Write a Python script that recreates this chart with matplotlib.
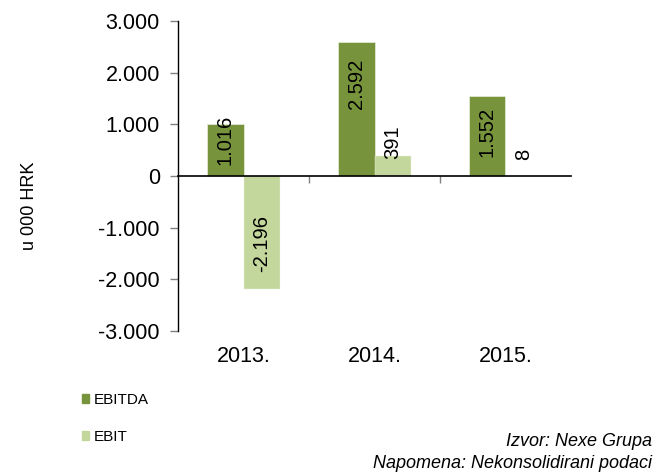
import matplotlib
matplotlib.use('Agg')
import matplotlib.pyplot as plt
from matplotlib.patches import Patch
from matplotlib.ticker import FuncFormatter
import numpy as np

plt.rcParams['font.family'] = ['Liberation Sans', 'DejaVu Sans']

# podaci (u 000 HRK)
years = ['2013.', '2014.', '2015.']
ebitda = [1016, 2592, 1552]
ebit = [-2196, 391, 8]
series_names = ['EBITDA', 'EBIT']
yticks = [-3000, -2000, -1000, 0, 1000, 2000, 3000]

c_ebitda = '#77933C'
c_ebit = '#C3D69B'

# pomaci natpisa (u tockama) u odnosu na vrh stupca
off_ebitda = [-12, -30, -26]
off_ebit = [33, 9.5, 15]


def fmt(v):
    return '{:,.0f}'.format(v).replace(',', '.')


fig = plt.figure(figsize=(6.58, 4.74), dpi=100)
ax = fig.add_axes([178/658, 1-331/474, (571-178)/658, (331-21)/474])

x = np.arange(len(years))
w = 0.28
ax.bar(x - w/2, ebitda, w, color=c_ebitda, edgecolor='#E8EEDB', linewidth=0.5, zorder=2)
ax.bar(x + w/2, ebit, w, color=c_ebit, edgecolor='#EEF3E3', linewidth=0.3, zorder=2)

for xi, v, off in zip(x - w/2, ebitda, off_ebitda):
    ax.annotate(fmt(v), xy=(xi, v), xytext=(0, off), textcoords='offset points',
                rotation=90, ha='center', va='center', fontsize=14.5, zorder=4)
for xi, v, off in zip(x + w/2, ebit, off_ebit):
    ax.annotate(fmt(v), xy=(xi, v), xytext=(0, off), textcoords='offset points',
                rotation=90, ha='center', va='center', fontsize=14.5, zorder=4)

ax.set_xlim(-0.5, len(years) - 0.5)
ax.set_ylim(-3000, 3000)
ax.set_yticks(yticks)
ax.yaxis.set_major_formatter(FuncFormatter(lambda v, p: fmt(v)))
ax.tick_params(axis='y', direction='out', length=6, width=1, color='#808080',
               pad=7, labelsize=15.5)

# os x na nuli, crtice izmedju kategorija
ax.spines['bottom'].set_position(('data', 0))
ax.spines['bottom'].set_linewidth(1.2)
ax.spines['bottom'].set_zorder(5)
ax.set_xticks([0.5, 1.5])
ax.set_xticklabels([])
ax.tick_params(axis='x', direction='out', length=5, width=1, color='#808080')
for s in ['top', 'right']:
    ax.spines[s].set_visible(False)
ax.spines['left'].set_linewidth(1)

# nazivi godina na dnu
sec = ax.secondary_xaxis('bottom')
sec.set_xticks(x)
sec.set_xticklabels(years)
sec.tick_params(axis='x', length=0, pad=11, labelsize=15.5)
sec.spines['bottom'].set_visible(False)

fig.text(30/658, 1-206/474, 'u 000 HRK', rotation=90, ha='center', va='center', fontsize=13)

handles = [Patch(color=c_ebitda), Patch(color=c_ebit)]
fig.legend(handles, series_names, loc='upper left', bbox_to_anchor=(82/658, 1-393/474),
           frameon=False, fontsize=11, handlelength=0.45, handleheight=0.45,
           handletextpad=0.3, labelspacing=1.5, borderaxespad=0, borderpad=0)

fig.text(652/658, 1-441/474, 'Izvor: Nexe Grupa', ha='right', va='center',
         style='italic', fontsize=13)
fig.text(652/658, 1-463/474, 'Napomena: Nekonsolidirani podaci', ha='right', va='center',
         style='italic', fontsize=13)

fig.savefig('out.png', dpi=100)
